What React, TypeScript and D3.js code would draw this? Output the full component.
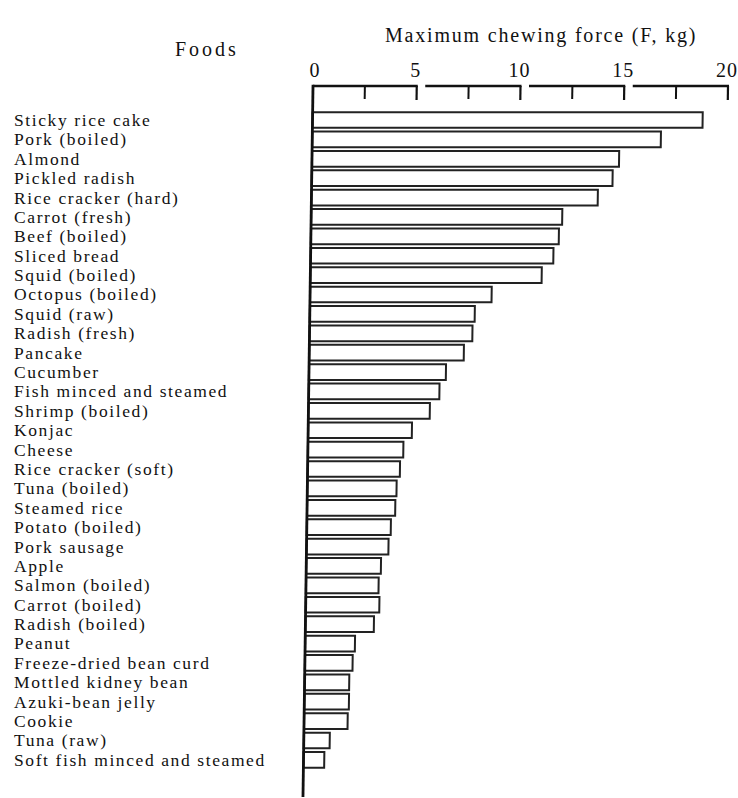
import React from "react";
import * as d3 from "d3";

const foods: string[] = [
  "Sticky rice cake",
  "Pork (boiled)",
  "Almond",
  "Pickled radish",
  "Rice cracker (hard)",
  "Carrot (fresh)",
  "Beef (boiled)",
  "Sliced bread",
  "Squid (boiled)",
  "Octopus (boiled)",
  "Squid (raw)",
  "Radish (fresh)",
  "Pancake",
  "Cucumber",
  "Fish minced and steamed",
  "Shrimp (boiled)",
  "Konjac",
  "Cheese",
  "Rice cracker (soft)",
  "Tuna (boiled)",
  "Steamed rice",
  "Potato (boiled)",
  "Pork sausage",
  "Apple",
  "Salmon (boiled)",
  "Carrot (boiled)",
  "Radish (boiled)",
  "Peanut",
  "Freeze-dried bean curd",
  "Mottled kidney bean",
  "Azuki-bean jelly",
  "Cookie",
  "Tuna (raw)",
  "Soft fish minced and steamed",
];

const force: number[] = [
  18.8, 16.8, 14.8, 14.5, 13.8, 12.1, 11.95, 11.7, 11.15, 8.75, 7.95, 7.85,
  7.45, 6.6, 6.3, 5.85, 5.0, 4.6, 4.45, 4.3, 4.25, 4.05, 3.95, 3.6, 3.5, 3.55,
  3.3, 2.4, 2.3, 2.15, 2.15, 2.1, 1.25, 1.0,
];

const majorTicks: number[] = [0, 5, 10, 15, 20];
const minorTicks: number[] = [2.5, 7.5, 12.5, 17.5];
const segments: [number, number][] = [
  [0, 5],
  [5, 10],
  [10, 15],
  [15, 20],
];

const xAxisTitle = "Maximum chewing force (F, kg)";
const yAxisTitle = "Foods";

export default function App() {
  const W = 738;
  const H = 798;
  const axisY = 86;
  const axisBottom = 797;
  const x = d3.scaleLinear().domain([0, 20]).range([313, 728]);
  const step = 19.39;
  const y = d3
    .scaleBand<string>()
    .domain(foods)
    .range([120 - step / 2, 120 - step / 2 + step * foods.length])
    .paddingInner(0.19)
    .paddingOuter(0.095);
  const skew = (Math.atan(-10 / 710) * 180) / Math.PI;
  const font = "'Liberation Serif', 'Times New Roman', serif";
  const gap = 8.5;

  return (
    <svg
      width={W}
      height={H}
      style={{ position: "absolute", left: 0, top: 0, background: "#fff" }}
      fontFamily={font}
    >
      <rect x={0} y={0} width={W} height={H} fill="#fff" />
      <text x={385} y={42} fontSize={20} letterSpacing={1.8} fill="#111">
        {xAxisTitle}
      </text>
      <text x={175} y={56} fontSize={20} letterSpacing={3} fill="#111">
        {yAxisTitle}
      </text>
      {majorTicks.map((t) => (
        <text
          key={"tl" + t}
          x={x(t) + (t === 0 ? 2 : -1)}
          y={77}
          fontSize={20}
          letterSpacing={1}
          textAnchor="middle"
          fill="#111"
        >
          {t}
        </text>
      ))}
      {foods.map((f) => (
        <text
          key={"lab" + f}
          x={14}
          y={(y(f) as number) + y.bandwidth() / 2}
          dy="0.34em"
          fontSize={17.5}
          letterSpacing={1.6}
          fill="#111"
        >
          {f}
        </text>
      ))}
      <g transform={`translate(0,${axisY}) skewX(${skew}) translate(0,${-axisY})`}>
        {segments.map(([a, b], i) => (
          <line
            key={"seg" + i}
            x1={x(a) + (i === 0 ? 0 : gap)}
            x2={x(b) + 1}
            y1={axisY}
            y2={axisY}
            stroke="#111"
            strokeWidth={2.6}
          />
        ))}
        {majorTicks
          .filter((t) => t > 0)
          .map((t) => (
            <line
              key={"mt" + t}
              x1={x(t)}
              x2={x(t)}
              y1={axisY}
              y2={axisY + 14}
              stroke="#111"
              strokeWidth={2.2}
            />
          ))}
        {minorTicks.map((t) => (
          <line
            key={"mn" + t}
            x1={x(t)}
            x2={x(t)}
            y1={axisY}
            y2={axisY + 13}
            stroke="#111"
            strokeWidth={2}
          />
        ))}
        {foods.map((f, i) => (
          <rect
            key={"bar" + f}
            x={x(0)}
            y={y(f) as number}
            width={x(force[i]) - x(0)}
            height={y.bandwidth()}
            fill="#fff"
            stroke="#222"
            strokeWidth={2}
          />
        ))}
        <line
          x1={x(0)}
          x2={x(0)}
          y1={axisY - 1.3}
          y2={axisBottom}
          stroke="#111"
          strokeWidth={2.8}
        />
      </g>
    </svg>
  );
}
